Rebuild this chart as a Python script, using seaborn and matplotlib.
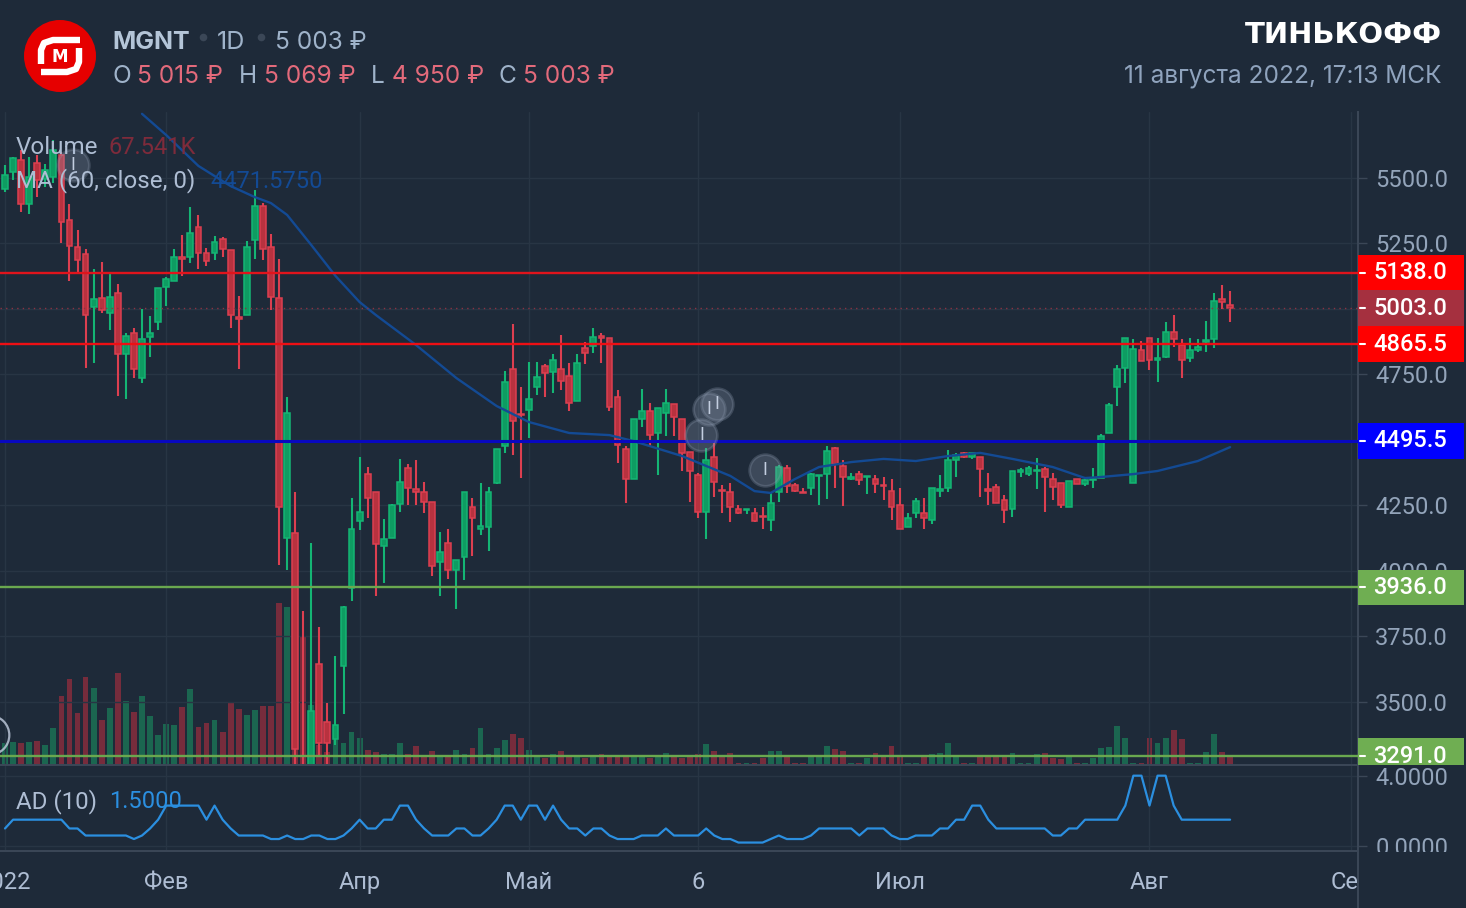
import numpy as np
import pandas as pd
import seaborn as sns
import matplotlib
matplotlib.use("Agg")
import matplotlib.pyplot as plt
from matplotlib.patches import Circle, Rectangle

# daily candles
opens = [5458, 5523, 5569, 5400, 5557, 5495, 5504, 5588, 5340, 5236,
         5210, 5007, 5042, 4984, 5061, 4828, 4908, 4736, 4893, 4950,
         5084, 5107, 5198, 5198, 5313, 5213, 5213, 5267, 5225, 4969,
         4977, 5263, 5393, 5236, 5042, 4125, 4144, 3230, 3230, 3643,
         3422, 3357, 3636, 3934, 4190, 4369, 4300, 4094, 4125, 4255,
         4392, 4312, 4300, 4262, 4033, 4106, 4003, 4052, 4243, 4159,
         4167, 4335, 4476, 4770, 4600, 4614, 4702, 4782, 4759, 4770,
         4744, 4648, 4851, 4858, 4896, 4889, 4663, 4465, 4350, 4579,
         4610, 4526, 4602, 4637, 4579, 4453, 4365, 4224, 4434, 4308,
         4300, 4236, 4232, 4220, 4209, 4194, 4300, 4392, 4327, 4300,
         4316, 4362, 4369, 4469, 4400, 4352, 4369, 4358, 4350, 4327,
         4304, 4251, 4167, 4220, 4220, 4194, 4304, 4316, 4423, 4450,
         4434, 4434, 4312, 4320, 4270, 4236, 4377, 4369, 4381, 4388,
         4350, 4335, 4243, 4350, 4331, 4346, 4354, 4526, 4702, 4774,
         4335, 4843, 4889, 4805, 4816, 4912, 4862, 4812, 4843, 4874,
         4885, 5038, 5015]
closes = [5511, 5576, 5400, 5504, 5492, 5530, 5607, 5332, 5240, 5187,
          4977, 5038, 4996, 5046, 4828, 4896, 4770, 4885, 4908, 5080,
          5114, 5198, 5190, 5290, 5213, 5183, 5256, 5229, 4977, 4961,
          5236, 5393, 5229, 5046, 4243, 4602, 3319, 3200, 3464, 3342,
          3342, 3410, 3861, 4159, 4224, 4278, 4102, 4121, 4251, 4339,
          4316, 4300, 4262, 4018, 4071, 4003, 4041, 4300, 4201, 4170,
          4300, 4465, 4721, 4572, 4595, 4656, 4740, 4755, 4805, 4725,
          4641, 4793, 4832, 4893, 4889, 4625, 4480, 4350, 4579, 4610,
          4518, 4621, 4641, 4587, 4449, 4381, 4224, 4423, 4339, 4304,
          4243, 4220, 4236, 4190, 4205, 4258, 4396, 4323, 4304, 4297,
          4369, 4365, 4457, 4407, 4358, 4358, 4346, 4362, 4331, 4323,
          4243, 4159, 4201, 4266, 4201, 4316, 4312, 4423, 4442, 4434,
          4450, 4388, 4304, 4259, 4232, 4381, 4385, 4392, 4385, 4358,
          4320, 4251, 4343, 4331, 4346, 4350, 4514, 4633, 4770, 4889,
          4847, 4801, 4805, 4812, 4912, 4885, 4805, 4843, 4854, 4881,
          5030, 5026, 5003]
highs = [5550, 5580, 5607, 5580, 5588, 5555, 5645, 5600, 5400, 5301,
         5229, 5152, 5179, 5137, 5095, 4908, 4927, 5000, 4973, 5080,
         5122, 5229, 5282, 5389, 5359, 5232, 5278, 5275, 5225, 5049,
         5259, 5454, 5404, 5286, 5191, 4663, 4300, 3846, 4106, 3785,
         3494, 3674, 3866, 4278, 4434, 4396, 4300, 4197, 4255, 4427,
         4407, 4423, 4339, 4262, 4148, 4159, 4041, 4300, 4278, 4335,
         4320, 4465, 4763, 4942, 4702, 4797, 4797, 4790, 4828, 4900,
         4793, 4828, 4874, 4927, 4908, 4889, 4690, 4476, 4579, 4694,
         4641, 4621, 4694, 4637, 4579, 4453, 4373, 4469, 4492, 4327,
         4335, 4251, 4236, 4239, 4243, 4300, 4404, 4404, 4335, 4316,
         4373, 4365, 4476, 4472, 4423, 4373, 4381, 4362, 4365, 4358,
         4350, 4316, 4220, 4278, 4278, 4316, 4365, 4461, 4450, 4453,
         4450, 4434, 4373, 4331, 4289, 4381, 4392, 4400, 4430, 4396,
         4373, 4335, 4343, 4350, 4350, 4392, 4522, 4641, 4786, 4889,
         4885, 4877, 4889, 4889, 4950, 4977, 4885, 4889, 4885, 4954,
         5061, 5091, 5069]
lows = [5446, 5492, 5370, 5362, 5427, 5465, 5481, 5252, 5106, 5141,
        4774, 4793, 4984, 4919, 4667, 4656, 4736, 4717, 4816, 4919,
        5011, 5107, 5126, 5175, 5152, 5164, 5187, 5198, 4927, 4770,
        4977, 5191, 5187, 4996, 4022, 4003, 3250, 3190, 3200, 3288,
        3261, 3334, 3452, 3884, 4155, 4201, 3903, 3953, 4125, 4224,
        4251, 4251, 4220, 3980, 3903, 3968, 3854, 3964, 4056, 4136,
        4075, 4331, 4449, 4442, 4354, 4507, 4671, 4663, 4679, 4690,
        4610, 4648, 4790, 4832, 4793, 4610, 4411, 4258, 4350, 4549,
        4472, 4365, 4514, 4514, 4381, 4262, 4201, 4121, 4281, 4220,
        4186, 4216, 4216, 4186, 4159, 4152, 4262, 4297, 4300, 4297,
        4289, 4251, 4274, 4316, 4247, 4346, 4327, 4293, 4297, 4270,
        4194, 4159, 4167, 4201, 4159, 4178, 4281, 4301, 4358, 4430,
        4427, 4281, 4251, 4259, 4182, 4205, 4358, 4362, 4312, 4224,
        4270, 4239, 4243, 4331, 4323, 4316, 4354, 4526, 4629, 4717,
        4335, 4801, 4767, 4721, 4812, 4854, 4736, 4797, 4835, 4835,
        4851, 5000, 4950]

# volume in thousands and the colour each bar has in the picture
volumes = [186, 194, 186, 194, 203, 169, 312, 582, 726, 439,
           743, 650, 380, 481, 776, 540, 447, 582, 414, 253,
           346, 338, 490, 641, 321, 354, 380, 279, 523, 473,
           422, 464, 498, 498, 1367, 1334, 1604, 1089, 506, 169,
           110, 228, 186, 279, 228, 127, 110, 93, 93, 186,
           93, 160, 68, 118, 84, 84, 127, 93, 143, 312,
           93, 143, 211, 262, 228, 127, 76, 59, 93, 118,
           68, 76, 59, 84, 93, 84, 76, 84, 68, 84,
           59, 76, 101, 68, 59, 84, 93, 177, 118, 76,
           101, 17, 17, 17, 59, 118, 118, 68, 17, 17,
           68, 76, 160, 135, 118, 17, 17, 59, 101, 68,
           160, 76, 17, 17, 76, 93, 101, 186, 76, 17,
           17, 68, 76, 84, 68, 101, 17, 17, 93, 101,
           59, 51, 76, 17, 17, 59, 143, 152, 329, 228,
           17, 17, 228, 186, 228, 295, 219, 17, 17, 110,
           262, 110, 68]
volume_dir = list("GGRGRGGRRR" "RGRGRGRGGG" "GGRGRRGRRR" "GGRRRGRRGR"
                  "RGGGGRRGGG" "RRRRGRGGRG" "GGGRRGGRGR" "RGRGRRRRGG"
                  "RGGRRRRGRR" "RRGRRGGRRR" "GGGRRGRGRR" "RRGGRGGGGR"
                  "GRRRRGGGGR" "RRGRGGGGGG" "GRRGGRRGGG" "GRR")

# AD (10) lower pane
ad_values = [1.0, 1.5, 1.5, 1.5, 1.5, 1.5, 1.5, 1.5, 1.0, 1.0,
             0.6, 0.6, 0.6, 0.6, 0.6, 0.6, 0.4, 0.6, 1.0, 1.5,
             2.3, 2.3, 2.3, 2.3, 2.3, 1.5, 2.3, 1.5, 1.0, 0.6,
             0.6, 0.6, 0.6, 0.4, 0.4, 0.6, 0.4, 0.4, 0.6, 0.6,
             0.4, 0.4, 0.6, 1.0, 1.5, 1.0, 1.0, 1.5, 1.5, 2.3,
             2.3, 1.5, 1.0, 0.6, 0.6, 0.6, 1.0, 1.0, 0.6, 0.6,
             1.0, 1.5, 2.3, 2.3, 1.5, 2.3, 2.3, 1.5, 2.3, 1.5,
             1.0, 1.0, 0.6, 1.0, 1.0, 0.6, 0.4, 0.4, 0.4, 0.6,
             0.6, 0.6, 1.0, 0.6, 0.6, 0.6, 0.6, 1.0, 0.6, 0.4,
             0.4, 0.2, 0.2, 0.2, 0.2, 0.4, 0.6, 0.4, 0.4, 0.4,
             0.6, 1.0, 1.0, 1.0, 1.0, 1.0, 0.6, 1.0, 1.0, 1.0,
             0.6, 0.4, 0.4, 0.6, 0.6, 0.6, 1.0, 1.0, 1.5, 1.5,
             2.3, 2.3, 1.5, 1.0, 1.0, 1.0, 1.0, 1.0, 1.0, 1.0,
             0.6, 0.6, 1.0, 1.0, 1.5, 1.5, 1.5, 1.5, 1.5, 2.3,
             4.0, 4.0, 2.3, 4.0, 4.0, 2.3, 1.5, 1.5, 1.5, 1.5,
             1.5, 1.5, 1.5]

# MA (60) read at some bars
ma_bars = [17, 20, 24, 28, 31, 33, 35, 38, 41, 44, 46, 51, 56, 61, 65, 70, 75, 78, 84,
           87, 90, 93, 95, 98, 101, 105, 109, 113, 117, 121, 125, 130, 134, 136, 140,
           143, 148, 152]
ma_values = [5745, 5664, 5546, 5469, 5427, 5404, 5359, 5244, 5126, 5026, 4977, 4862, 4736,
             4629, 4568, 4526, 4518, 4495, 4438, 4400, 4362, 4304, 4297, 4350, 4396, 4415,
             4427, 4419, 4438, 4450, 4427, 4396, 4354, 4358, 4369, 4381, 4419, 4472]

event_bars = [8.44, 86.4, 87.3, 88.3, 94.3]
event_prices = [5550, 4518, 4618, 4637, 4385]
ring_bar = [-1.9]
ring_price = [3372]

# horizontal levels: price, line colour, box colour
levels = [5138.0, 5003.0, 4865.5, 4495.5, 3936.0, 3291.0]
level_lines = ["#e0141c", "#8c3343", "#ee0f14", "#0808c0", "#6aa84f", "#6aa84f"]
level_boxes = ["#ff0000", "#a5303f", "#ff0000", "#0000ff", "#6fae52", "#6fae52"]

price_ticks = [3500, 3750, 4000, 4250, 4500, 4750, 5000, 5250, 5500]
month_bars = [0, 20, 44, 65, 86, 111, 142, 167]
month_labels = ["2022", "Фев", "Апр", "Май", "6", "Июл", "Авг", "Сен"]

BG = "#1e2a39"
GRID = "#283544"
AXIS = "#3b4757"
TICK_TXT = "#93a4ba"
LABEL_TXT = "#aebdd3"
UP_FILL, UP_EDGE = "#0e9c62", "#14b574"
DN_FILL, DN_EDGE = "#b8323f", "#dc3f50"
W, H = 1466, 908

sns.set_theme(style="dark", rc={"axes.facecolor": BG, "figure.facecolor": BG})
plt.rcParams["font.family"] = ["Roboto", "DejaVu Sans"]

fig = plt.figure(figsize=(W / 100, H / 100), dpi=100)


def rect(left, top, right, bottom):
    return [left / W, 1 - bottom / H, (right - left) / W, (bottom - top) / H]


idx = np.arange(len(opens))
xlim = (-0.62, 167.87)

# volume sits under the price axes
ax_vol = fig.add_axes(rect(0, 112, 1358, 765), zorder=1)
vol_df = pd.DataFrame({"bar": idx, "vol": volumes, "dir": volume_dir})
sns.barplot(data=vol_df, x="bar", y="vol", hue="dir", palette={"G": "#1b6650", "R": "#762c3c"},
            native_scale=True, dodge=False, width=0.72, saturation=1, legend=False,
            linewidth=0, edgecolor="none", ax=ax_vol)
ax_vol.set_xlim(xlim)
ax_vol.set_ylim(0, 5511)
ax_vol.axis("off")

ax = fig.add_axes(rect(0, 112, 1358, 765), zorder=2)
ax.patch.set_alpha(0)
o, c, h, l = map(np.array, (opens, closes, highs, lows))
up = c >= o
ax.vlines(idx, l, h, colors=np.where(up, UP_EDGE, DN_EDGE), lw=1.5, zorder=2)
ax.bar(idx, np.abs(c - o), bottom=np.minimum(o, c), width=0.72,
       color=np.where(up, UP_FILL, DN_FILL), edgecolor=np.where(up, UP_EDGE, DN_EDGE), lw=1.1, zorder=2.2)

ma_df = pd.DataFrame({"bar": ma_bars, "ma": ma_values})
sns.lineplot(data=ma_df, x="bar", y="ma", color="#134a94", lw=1.7, ax=ax, zorder=2.4)

for price, line_col, box_col in zip(levels, level_lines, level_boxes):
    dotted = price == 5003.0
    line_w = 1 if dotted else (2.2 if price == 4495.5 else 1.7)
    ax.axhline(price, color=line_col, lw=line_w, ls=(0, (1, 3)) if dotted else "-", zorder=3)
    box_low = max(price - 68.5, 3258)
    ax.add_patch(Rectangle((1.0, box_low), 0.078, price + 68.5 - box_low, transform=ax.get_yaxis_transform(),
                           color=box_col, clip_on=False, lw=0, zorder=5))
    ax.plot([1.0015, 1.0055], [price, price], transform=ax.get_yaxis_transform(), color="white",
            lw=1.5, clip_on=False, zorder=6)
    ax.text(1.0655, price, f"{price:.1f}", transform=ax.get_yaxis_transform(), color="white", fontsize=17,
            ha="right", va="center", fontweight="medium", clip_on=False, zorder=6)

ax.scatter(event_bars, event_prices, s=520, facecolor="#8e9bb0", edgecolor="#8e9bb0", alpha=0.28, lw=2, zorder=4)
ax.scatter(ring_bar, ring_price, s=800, facecolor="none", edgecolor="#c3cee0", alpha=0.8, lw=1.6, zorder=4)
for bar, price in zip(event_bars, event_prices):
    ax.text(bar, price, "I", color="#c3cee0", fontsize=13, ha="center", va="center", zorder=4.5)

ax.set_xlim(xlim)
ax.set_ylim(3258, 5752)
ax.set_xlabel("")
ax.set_ylabel("")
ax.set_yticks(price_ticks, [f"{t:.1f}" for t in price_ticks])
ax.yaxis.tick_right()
ax.set_xticks(month_bars, [])
ax.tick_params(axis="y", colors=AXIS, length=6.5, width=1, pad=6, labelsize=17, labelcolor=TICK_TXT)
ax.tick_params(axis="x", length=0)
ax.grid(True, color=GRID, lw=1)
ax.set_axisbelow(True)

# AD pane
ax_ad = fig.add_axes(rect(0, 766, 1358, 851), zorder=2)
ax_ad.patch.set_alpha(0)
ad_df = pd.DataFrame({"bar": idx, "ad": ad_values})
sns.lineplot(data=ad_df, x="bar", y="ad", color="#2b8fe0", lw=1.6, ax=ax_ad)
ax_ad.set_xlim(xlim)
ax_ad.set_ylim(-0.28, 4.55)
ax_ad.set_xlabel("")
ax_ad.set_ylabel("")
ax_ad.set_yticks([0, 4], ["0.0000", "4.0000"])
ax_ad.yaxis.tick_right()
ax_ad.set_xticks(month_bars, month_labels)
ax_ad.tick_params(axis="y", colors=AXIS, length=6.5, width=1, pad=6, labelsize=17, labelcolor=TICK_TXT)
ax_ad.tick_params(axis="x", colors=AXIS, length=4.5, width=1, pad=10, labelsize=17, labelcolor=LABEL_TXT)
ax_ad.grid(True, color=GRID, lw=1)
ax_ad.set_axisbelow(True)

for a in (ax, ax_ad):
    for side in ("left", "top"):
        a.spines[side].set_visible(False)
    for side in ("right", "bottom"):
        a.spines[side].set_visible(True)
        a.spines[side].set_color(AXIS)
        a.spines[side].set_linewidth(1.4)

# overlay in pixels for header, legends and the logo
ov = fig.add_axes([0, 0, 1, 1], zorder=10)
ov.set_xlim(0, W)
ov.set_ylim(H, 0)
ov.axis("off")
ov.add_patch(Rectangle((1359, 852), 107, 56, color=BG, lw=0))
ov.plot([1358, 1358], [851, 908], color=AXIS, lw=1.4)

for x, y, txt, col in [(16, 147, "Volume", LABEL_TXT), (109, 147, "67.541K", "#7e2b3b"),
                       (16, 181, "MA (60, close, 0)", LABEL_TXT), (210, 181, "4471.5750", "#134a94"),
                       (16, 802, "AD (10)", LABEL_TXT), (109, 802, "1.5000", "#2b8fe0")]:
    ov.text(x, y, txt, color=col, fontsize=17.4 if x == 16 else 17, va="center")

HEAD = ["Inter", "DejaVu Sans"]
ov.text(112, 42.5, "MGNT", color="#b4c5d8", fontsize=18, fontweight="bold", va="center", family=HEAD)
ov.text(217, 42.5, "1D", color="#9fb3ca", fontsize=18, va="center", family=HEAD)
ov.text(275, 42.5, "5 003 ₽", color="#9fb3ca", fontsize=17.6, va="center", family=HEAD)
ov.scatter([203, 261], [37, 37], s=30, color="#3b4757", lw=0)
for x, txt, col in [(112, "O", "#9fb3ca"), (137, "5 015 ₽", "#e36a7b"), (239, "H", "#9fb3ca"),
                    (264, "5 069 ₽", "#e36a7b"), (371, "L", "#9fb3ca"), (392, "4 950 ₽", "#e36a7b"),
                    (498, "C", "#9fb3ca"), (523, "5 003 ₽", "#e36a7b")]:
    ov.text(x, 76.5, txt, color=col, fontsize=17.6, va="center", family=HEAD)
ov.text(1442, 35, "ТИНЬКОФФ", color="white", fontsize=21, fontweight="bold", ha="right", va="center",
        family=["DejaVu Sans"])
ov.text(1442, 76, "11 августа 2022, 17:13 МСК", color="#8fa3bd", fontsize=17.6, ha="right", va="center", family=HEAD)

ov.add_patch(Circle((60, 56), 36, color="#e60000", lw=0))
ov.plot([80, 53, 44, 41, 41], [40, 40, 43, 50, 64], color="white", lw=4.6, solid_capstyle="butt")
ov.plot([41, 67, 76, 79, 79], [72, 72, 69, 62, 48], color="white", lw=4.6, solid_capstyle="butt")
ov.text(60, 57, "М", color="white", fontsize=12, fontweight="bold", ha="center", va="center", family=["DejaVu Sans"])

fig.savefig("out.png", dpi=100, facecolor=BG)
